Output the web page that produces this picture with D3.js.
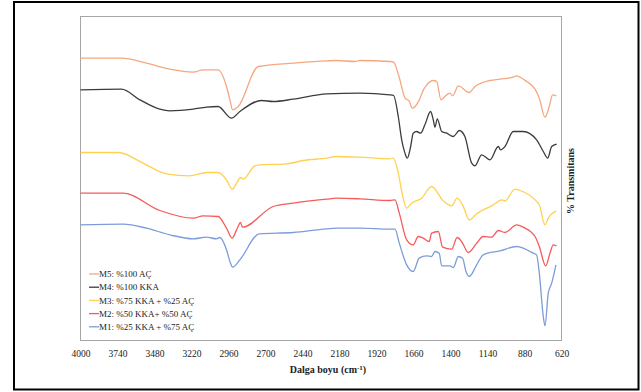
<!DOCTYPE html>
<html>
<head>
<meta charset="utf-8">
<script src="https://cdn.jsdelivr.net/npm/d3@7"></script>
<style>
  body { margin: 0; background: #fff; }
  svg text { font-family: "Liberation Serif", "Times New Roman", serif; fill: #222; }
</style>
</head>
<body>
<svg id="chart" width="641" height="392"></svg>
<script>
// x ticks (cm-1)
const xTicks = [4000, 3740, 3480, 3220, 2960, 2700, 2440, 2180, 1920, 1660, 1400, 1140, 880, 620];

// M5: %100 AÇ
const m5Wn = [4000, 3712, 3536, 3372, 3208, 3138, 3033, 2974, 2950, 2931, 2892, 2751, 2505, 2271, 2200, 2072, 2036, 1826, 1800, 1762, 1719, 1690, 1669, 1619, 1590, 1567, 1520, 1497, 1467, 1427, 1404, 1385, 1345, 1268, 1228, 1123, 1052, 959, 940, 865, 806, 776, 736, 706, 683, 656];
const m5T = [84.7, 84.7, 83.2, 81.4, 80.5, 81.2, 81.2, 76.2, 72.2, 69.2, 70.2, 82.2, 83.2, 83.9, 84.0, 83.7, 84.0, 83.7, 83.5, 79.2, 72.7, 71.8, 69.7, 72.2, 75.2, 76.7, 78.0, 77.7, 72.2, 73.7, 74.2, 73.4, 76.4, 74.4, 76.2, 78.0, 78.4, 79.0, 79.4, 77.7, 75.4, 72.7, 67.0, 70.2, 73.7, 73.4];

// M4: %100 KKA
const m4Wn = [4000, 3712, 3583, 3443, 3372, 3208, 3114, 3033, 2939, 2880, 2728, 2646, 2505, 2271, 2036, 1826, 1800, 1767, 1743, 1720, 1704, 1680, 1662, 1638, 1610, 1580, 1540, 1521, 1509, 1493, 1462, 1427, 1380, 1338, 1299, 1251, 1228, 1181, 1123, 1064, 1048, 1017, 959, 889, 795, 748, 717, 689, 654];
const m4T = [75.2, 75.4, 72.2, 69.4, 68.9, 69.4, 70.0, 70.2, 66.7, 68.7, 72.0, 71.7, 72.4, 74.0, 74.2, 73.7, 73.5, 67.2, 60.2, 56.2, 54.7, 58.2, 62.2, 62.7, 62.2, 64.7, 68.7, 66.2, 64.0, 66.5, 62.7, 62.2, 61.2, 63.0, 61.2, 53.2, 52.4, 55.7, 54.2, 58.2, 57.2, 58.2, 62.7, 62.7, 60.2, 56.7, 54.7, 58.2, 58.9];

// M3: %75 KKA + %25 AÇ
const m3Wn = [4000, 3733, 3560, 3395, 3232, 3114, 3033, 2974, 2934, 2903, 2875, 2857, 2775, 2740, 2552, 2435, 2271, 2200, 2036, 1826, 1802, 1767, 1740, 1708, 1673, 1603, 1533, 1451, 1392, 1353, 1315, 1268, 1216, 1099, 1040, 1017, 947, 912, 806, 776, 736, 713, 659];
const m3T = [56.4, 56.4, 53.2, 50.0, 49.4, 50.4, 50.4, 48.2, 45.4, 47.2, 48.9, 48.4, 52.4, 52.7, 53.0, 54.0, 54.7, 55.2, 55.0, 54.5, 54.7, 50.2, 44.2, 39.7, 41.2, 42.7, 46.2, 41.9, 40.4, 42.7, 40.7, 36.2, 38.0, 40.7, 42.2, 41.9, 45.4, 45.0, 42.2, 40.7, 34.7, 36.7, 38.9];

// M2: %50 KKA+ %50 AÇ
const m2Wn = [4000, 3700, 3443, 3208, 3138, 3033, 2974, 2934, 2903, 2875, 2862, 2646, 2505, 2271, 2200, 2036, 1826, 1790, 1760, 1708, 1662, 1627, 1592, 1549, 1533, 1486, 1455, 1392, 1353, 1322, 1275, 1216, 1170, 1111, 1064, 1017, 935, 889, 806, 776, 731, 701, 678, 656];
const m2T = [44.2, 44.2, 39.0, 36.7, 37.4, 37.2, 33.7, 30.7, 33.2, 35.4, 34.0, 40.2, 41.2, 42.4, 42.7, 42.5, 42.0, 42.2, 38.2, 30.2, 28.7, 31.2, 30.7, 29.7, 32.2, 32.7, 28.0, 27.4, 30.9, 29.7, 26.4, 29.2, 31.2, 31.0, 33.0, 32.4, 34.7, 34.0, 31.2, 28.2, 22.4, 26.2, 28.7, 28.4];

// M1: %25 KKA + %75 AÇ
const m1Wn = [4000, 3700, 3536, 3372, 3208, 3114, 3044, 3021, 2974, 2950, 2931, 2880, 2744, 2505, 2271, 2200, 2036, 1826, 1790, 1760, 1708, 1662, 1620, 1568, 1533, 1509, 1479, 1462, 1404, 1380, 1345, 1315, 1291, 1268, 1216, 1170, 1052, 935, 912, 818, 795, 776, 748, 736, 713, 689, 659];
const m1T = [34.7, 34.9, 33.7, 31.7, 30.5, 31.0, 30.5, 30.9, 27.2, 23.7, 22.0, 24.2, 32.0, 32.4, 33.5, 33.7, 33.7, 33.4, 33.4, 29.2, 22.7, 20.7, 24.7, 25.4, 25.2, 26.7, 26.2, 22.4, 22.4, 21.9, 25.2, 24.7, 20.7, 19.2, 22.7, 25.7, 26.9, 28.2, 28.0, 26.2, 25.7, 20.2, 7.2, 4.4, 14.2, 17.2, 22.7];

const seriesNames = ['M5: %100 AÇ', 'M4: %100 KKA', 'M3: %75 KKA + %25 AÇ', 'M2: %50 KKA+ %50 AÇ', 'M1: %25 KKA + %75 AÇ'];
const seriesWn = [m5Wn, m4Wn, m3Wn, m2Wn, m1Wn];
const seriesT = [m5T, m4T, m3T, m2T, m1T];
const colors = ['#f5a77e', '#3c3c3c', '#ffd14f', '#f55b5b', '#7d9cd9'];

const svg = d3.select('#chart');
const plotL = 80.5, plotR = 561.5, plotT = 16.5, plotB = 340.5;

// outer frame
svg.append('rect').attr('x', 14).attr('y', 2).attr('width', 624.5).attr('height', 387.5)
  .attr('fill', 'none').attr('stroke', '#000').attr('stroke-width', 2);

const x = d3.scaleLinear().domain([4000, 620]).range([plotL, plotR]);
const y = d3.scaleLinear().domain([0, 97.2]).range([plotB, plotT]);

// plot box
svg.append('rect').attr('x', plotL).attr('y', plotT).attr('width', plotR - plotL).attr('height', plotB - plotT)
  .attr('fill', 'none').attr('stroke', '#a6a6a6').attr('stroke-width', 1);

const xAxis = svg.append('g').attr('transform', 'translate(0,' + plotB + ')')
  .call(d3.axisBottom(x).tickValues(xTicks).tickSize(0).tickPadding(10).tickFormat(d3.format('d')));
xAxis.select('.domain').remove();
xAxis.selectAll('text').attr('font-size', '9.5px').attr('fill', '#222')
  .attr('font-family', '"Liberation Serif", serif');

const line = d3.line().curve(d3.curveMonotoneX);

seriesWn.forEach((wn, i) => {
  const pts = wn.map((w, j) => [x(w), y(seriesT[i][j])]);
  svg.append('path').attr('d', line(pts)).attr('fill', 'none')
    .attr('stroke', colors[i]).attr('stroke-width', 1.3).attr('stroke-linejoin', 'round');
});

// legend
const lg = svg.append('g').attr('transform', 'translate(89,274)');
seriesNames.forEach((name, i) => {
  const row = lg.append('g').attr('transform', 'translate(0,' + i * 13.2 + ')');
  row.append('line').attr('x1', 0).attr('x2', 10).attr('y1', 0).attr('y2', 0)
    .attr('stroke', colors[i]).attr('stroke-width', 1.3);
  row.append('text').attr('x', 10).attr('y', 3.2).attr('font-size', '9px').text(name);
});

// axis titles
const xt = svg.append('text').attr('x', 328).attr('y', 373).attr('text-anchor', 'middle')
  .attr('font-size', '10px').attr('font-weight', 'bold');
xt.append('tspan').text('Dalga boyu (cm');
xt.append('tspan').attr('font-size', '7px').attr('dy', -3.5).text('-1');
xt.append('tspan').attr('dy', 3.5).text(')');

svg.append('text').attr('transform', 'translate(574,181) rotate(-90)').attr('text-anchor', 'middle')
  .attr('font-size', '10px').attr('font-weight', 'bold').text('% Transmitans');
</script>
</body>
</html>
